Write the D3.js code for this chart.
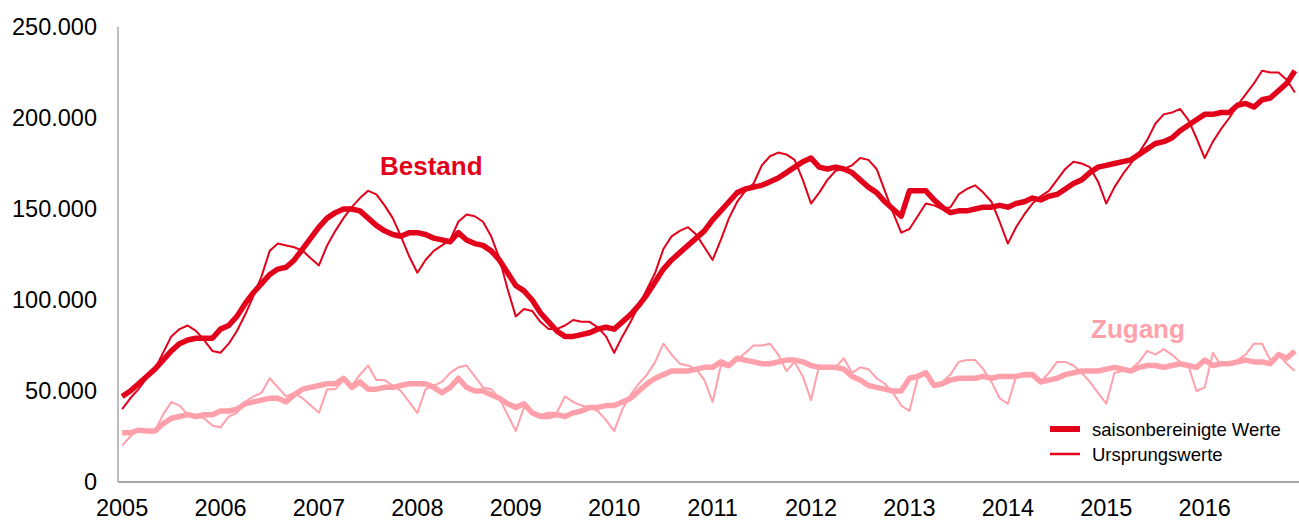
<!DOCTYPE html>
<html>
<head>
<meta charset="utf-8">
<script src="https://cdn.jsdelivr.net/npm/d3@7"></script>
<style>
    body { margin: 0; background: #fff; }
    svg { display: block; font-family: "Liberation Sans", Arial, sans-serif; }
</style>
</head>
<body>
<div id="chart"></div>
<script>
// monthly values, Jan 2005 - Dec 2016
const years = [2005, 2006, 2007, 2008, 2009, 2010, 2011, 2012, 2013, 2014, 2015, 2016];
const yTicks = [0, 50000, 100000, 150000, 200000, 250000];

const bestandSA = [
    47, 50, 54, 58, 62, 67, 72, 76, 78, 79, 79, 79,
    84, 86, 91, 98, 104, 109, 114, 117, 118, 122, 128, 134,
    140, 145, 148, 150, 150, 149, 145, 141, 138, 136, 135, 137,
    137, 136, 134, 133, 132, 137, 133, 131, 130, 127, 122, 115,
    108, 105, 100, 93, 88, 83, 80, 80, 81, 82, 84, 85,
    84, 88, 92, 97, 103, 110, 117, 122, 126, 130, 134, 138,
    144, 149, 154, 159, 161, 162, 163, 165, 167, 170, 173, 176,
    178, 173, 172, 173, 172, 170, 166, 162, 159, 154, 150, 146,
    160, 160, 160, 155, 151, 148, 149, 149, 150, 151, 151, 152,
    151, 153, 154, 156, 155, 157, 158, 161, 164, 166, 170, 173,
    174, 175, 176, 177, 180, 183, 186, 187, 189, 193, 196, 199,
    202, 202, 203, 203, 207, 208, 206, 210, 211, 215, 219, 226
];
const bestandOrig = [
    40, 46, 51, 57, 62, 71, 80, 84, 86, 83, 78, 72,
    71, 76, 83, 92, 102, 113, 127, 131, 130, 129, 127, 123,
    119, 130, 138, 145, 151, 156, 160, 158, 152, 145, 135, 124,
    115, 122, 127, 130, 133, 143, 147, 146, 143, 135, 123, 106,
    91, 95, 94, 88, 84, 84, 86, 89, 88, 88, 85, 80,
    71, 80, 88, 97, 106, 115, 128, 135, 138, 140, 136, 129,
    122, 133, 145, 154, 160, 164, 174, 179, 181, 180, 177, 166,
    153, 159, 166, 171, 172, 174, 178, 177, 172, 160, 148, 137,
    139, 146, 153, 152, 150, 151, 158, 161, 163, 159, 154, 143,
    131, 140, 147, 153, 157, 160, 166, 172, 176, 175, 173, 165,
    153, 162, 169, 175, 181, 188, 197, 202, 203, 205, 199, 189,
    178, 187, 194, 200, 207, 213, 219, 226, 225, 225, 221, 214
];
const zugangSA = [
    27, 27, 28.5, 28, 28, 32, 35, 36, 37, 36, 37, 37,
    39, 39, 40, 43, 44, 45, 46, 46, 44, 48, 51, 52,
    53, 54, 54, 57, 52, 55, 51, 51, 52, 52, 53, 54,
    54, 54, 52, 49, 52, 57, 52, 50, 50, 48, 46, 43,
    41, 43, 38, 36, 36, 37, 36, 38, 39, 41, 41, 42,
    42, 44, 46, 50, 54, 57, 59, 61, 61, 61, 62, 63,
    63, 66, 64, 68, 67, 66, 65, 65, 66, 67, 67, 66,
    64, 63, 63, 63, 62, 58, 56, 53, 52, 51, 50, 50,
    57, 58, 60, 53, 54, 56, 57, 57, 57, 58, 57, 58,
    58, 58, 59, 59, 55, 56, 57, 59, 60, 61, 61, 61,
    62, 63, 62, 61, 63, 64, 64, 63, 64, 65, 64, 63,
    67, 64, 65, 65, 66, 67, 66, 66, 65, 70, 68, 72
];
const zugangOrig = [
    20, 25, 29, 28, 28, 37, 44, 42, 37, 36, 35, 31,
    30, 36, 38, 44, 47, 49, 57, 52, 47, 49, 46, 42,
    38, 51, 51, 56, 53, 59, 64, 56, 56, 53, 50, 44,
    38, 51, 53, 55, 60, 63, 64, 58, 52, 51, 46, 37,
    28, 41, 39, 37, 38, 38, 47, 44, 42, 41, 39, 34,
    28, 40, 48, 54, 59, 66, 76, 70, 65, 64, 62, 56,
    44, 64, 63, 67, 71, 75, 75, 76, 70, 61, 66, 58,
    45, 64, 63, 63, 68, 60, 63, 62, 57, 54, 49, 42,
    39, 57, 61, 53, 55, 59, 66, 67, 67, 62, 55, 46,
    43, 58, 58, 58, 55, 60, 66, 66, 64, 60, 55, 49,
    43, 60, 61, 62, 66, 72, 70, 73, 70, 66, 64, 50,
    52, 71, 64, 65, 67, 70, 76, 76, 67, 70, 65, 61
];

const red = "#e2001a";
const pink = "#ffa0ab";

const width = 1299, height = 521;
const margin = { left: 118, right: 0, top: 27, bottom: 39 };

const months = d3.range(bestandSA.length);

const x = d3.scaleBand()
    .domain(months)
    .range([margin.left, width - margin.right]);

const y = d3.scaleLinear()
    .domain([0, 250000])
    .range([height - margin.bottom, margin.top]);

const svg = d3.select("#chart")
    .append("svg")
    .attr("width", width)
    .attr("height", height);

const line = d3.line()
    .x((d, i) => x(i) + x.bandwidth() / 2)
    .y(d => y(d * 1000));

const fmt = v => d3.format(",")(v).replace(/,/g, ".");

// y labels (no gridlines, no ticks)
svg.append("g")
    .selectAll("text")
    .data(yTicks)
    .enter()
    .append("text")
    .attr("x", 97)
    .attr("y", d => y(d))
    .attr("dy", "0.36em")
    .attr("text-anchor", "end")
    .attr("font-size", 23.5)
    .attr("fill", "#000")
    .text(fmt);

// x labels at first month of each year
svg.append("g")
    .selectAll("text")
    .data(years)
    .enter()
    .append("text")
    .attr("x", (d, i) => x(i * 12) + x.bandwidth() / 2)
    .attr("y", 516)
    .attr("text-anchor", "middle")
    .attr("font-size", 23.5)
    .attr("fill", "#000")
    .text(d => d);

// axis lines
svg.append("line")
    .attr("x1", margin.left).attr("x2", margin.left)
    .attr("y1", margin.top).attr("y2", y(0))
    .attr("stroke", "#a6a6a6").attr("stroke-width", 1.5);
svg.append("line")
    .attr("x1", margin.left).attr("x2", width)
    .attr("y1", y(0)).attr("y2", y(0))
    .attr("stroke", "#a6a6a6").attr("stroke-width", 2);

// series
const series = [
    { data: zugangOrig, color: pink, w: 2 },
    { data: zugangSA, color: pink, w: 5.5 },
    { data: bestandOrig, color: red, w: 2 },
    { data: bestandSA, color: red, w: 5.5 }
];

svg.append("g")
    .selectAll("path")
    .data(series)
    .enter()
    .append("path")
    .attr("d", d => line(d.data))
    .attr("fill", "none")
    .attr("stroke", d => d.color)
    .attr("stroke-width", d => d.w)
    .attr("stroke-linejoin", "round");

// series labels
svg.append("text")
    .attr("x", 380).attr("y", 175)
    .attr("font-size", 26).attr("font-weight", "bold")
    .attr("fill", red)
    .text("Bestand");
svg.append("text")
    .attr("x", 1091).attr("y", 338)
    .attr("font-size", 26).attr("font-weight", "bold")
    .attr("fill", pink)
    .text("Zugang");

// legend
const legend = [
    { label: "saisonbereinigte Werte", w: 6, y: 429 },
    { label: "Ursprungswerte", w: 2.5, y: 454 }
];
const lg = svg.append("g")
    .selectAll("g")
    .data(legend)
    .enter()
    .append("g");
lg.append("line")
    .attr("x1", 1050).attr("x2", 1080)
    .attr("y1", d => d.y).attr("y2", d => d.y)
    .attr("stroke", red)
    .attr("stroke-width", d => d.w);
lg.append("text")
    .attr("x", 1092)
    .attr("y", d => d.y)
    .attr("dy", "0.36em")
    .attr("font-size", 18.5)
    .attr("fill", "#000")
    .text(d => d.label);
</script>
</body>
</html>
